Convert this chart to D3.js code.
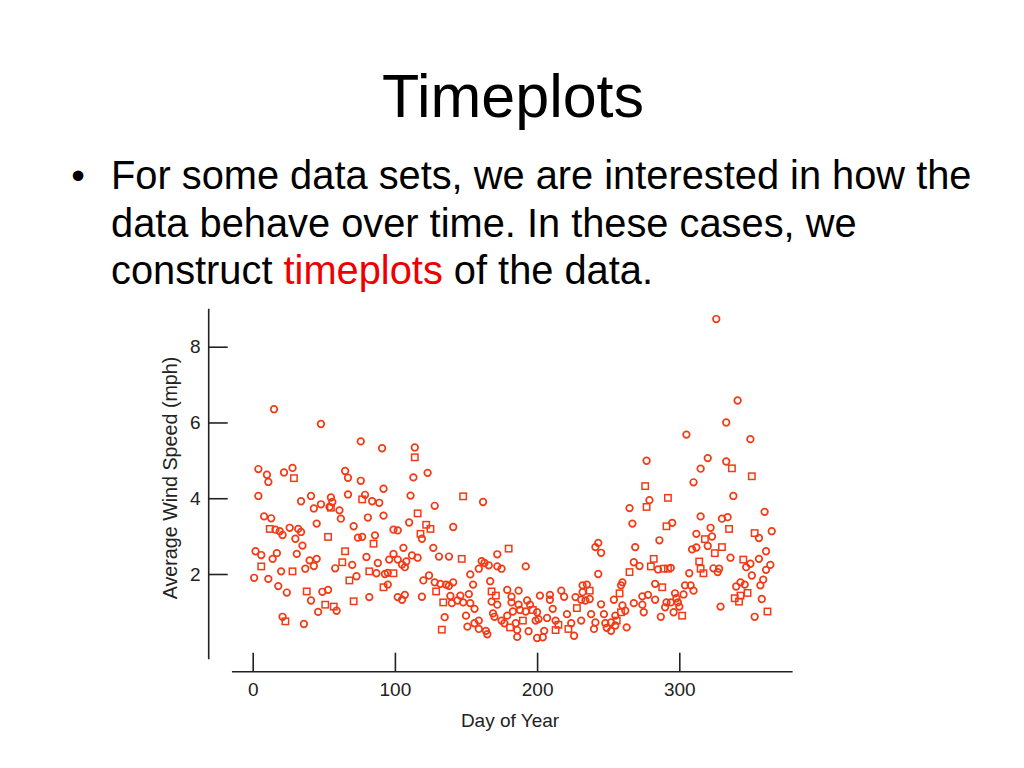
<!DOCTYPE html>
<html>
<head>
<meta charset="utf-8">
<script src="https://cdn.jsdelivr.net/npm/d3@7"></script>
<style>
  html, body { margin: 0; padding: 0; background: #fff; }
  svg { display: block; }
</style>
</head>
<body>
<svg id="chart" width="1024" height="768"></svg>
<script>
// ---- Data ----
const titleText = "Timeplots";
const bulletLines = [
  [["For some data sets, we are interested in how the", false]],
  [["data behave over time. In these cases, we", false]],
  [["construct ", false], ["timeplots", true], [" of the data.", false]]
];
const xTicks = [0, 100, 200, 300];
const yTicks = [2, 4, 6, 8];
const xLabel = "Day of Year";
const yLabel = "Average Wind Speed (mph)";

// [day, average wind speed] drawn as circles
const circlePoints = [
  [15,6.35],[48,5.96],[4,4.77],[10,4.62],[11,4.43],[28,4.80],[22,4.68],[4,4.06],[34,3.92],[41,4.06],
  [43,3.73],[48,3.84],[54,3.77],[8,3.52],[13,3.47],[16,3.17],[19,3.13],[21,3.03],[26,3.22],[32,3.19],
  [34,3.11],[45,3.33],[30,2.93],[35,2.75],[2,2.60],[6,2.50],[17,2.55],[14,2.40],[31,2.53],[40,2.36],
  [45,2.40],[43,2.21],[37,2.14],[1,1.90],[11,1.87],[20,2.07],[18,1.68],[24,1.51],[49,1.53],[53,1.58],
  [41,1.30],[46,1.00],[21,0.87],[36,0.68],
  [76,5.50],[91,5.32],[114,5.34],[65,4.72],[67,4.54],[76,4.46],[92,4.25],[113,4.55],[55,4.02],[56,3.90],
  [67,4.10],[79,4.09],[84,3.92],[89,3.88],[111,4.07],[61,3.68],[62,3.46],[81,3.49],[92,3.54],[110,3.36],
  [71,3.26],[74,2.96],[77,2.98],[86,3.02],[99,3.17],[102,3.15],[106,2.69],[112,2.49],[80,2.45],[99,2.53],
  [58,2.15],[70,2.24],[88,2.29],[96,2.38],[102,2.38],[105,2.25],[108,2.33],[107,2.18],[73,1.94],[87,2.02],
  [93,2.00],[95,2.03],[95,1.72],[59,1.03],[82,1.39],[102,1.39],[105,1.32],[107,1.45],
  [123,4.67],[162,3.90],[128,3.80],[141,3.24],[119,2.93],[127,2.69],[116,2.43],[131,2.46],[138,2.46],[161,2.34],
  [163,2.29],[166,2.23],[172,2.20],[172,2.52],[159,2.14],[153,1.99],[124,1.96],[120,1.83],[128,1.78],[132,1.74],
  [136,1.72],[138,1.69],[141,1.78],[155,1.72],[167,1.81],[119,1.40],[139,1.42],[146,1.43],[152,1.47],[140,1.23],
  [144,1.30],[148,1.25],[153,1.23],[156,1.08],[168,1.27],[172,1.19],[135,0.86],[150,0.90],[169,0.96],[170,0.87],
  [151,0.61],[156,0.70],[159,0.77],[159,0.55],[164,0.50],[165,0.41],
  [175,2.14],[192,2.20],[232,1.70],[179,1.58],[187,1.56],[182,1.40],[182,1.25],[202,1.43],[209,1.45],[209,1.32],
  [217,1.56],[219,1.40],[227,1.39],[231,1.32],[187,1.19],[193,1.30],[195,1.19],[183,1.01],[188,1.05],[192,1.01],
  [200,0.99],[211,1.08],[221,0.94],[179,0.90],[175,0.77],[177,0.70],[185,0.70],[199,0.77],[201,0.81],[207,0.84],
  [213,0.77],[224,0.70],[231,0.77],[186,0.52],[194,0.49],[205,0.50],[186,0.34],[200,0.31],[204,0.33],[226,0.37],
  [277,4.99],[279,3.95],[265,3.74],[267,3.33],[286,2.89],[243,2.82],[241,2.71],[245,2.56],[269,2.71],[268,2.31],
  [272,2.21],[285,2.12],[243,2.00],[260,1.78],[259,1.70],[283,1.74],[235,1.72],[232,1.52],[234,1.30],[237,1.34],
  [254,1.32],[274,1.41],[278,1.45],[283,1.32],[291,1.25],[245,1.20],[268,1.23],[274,1.19],[260,1.17],[262,1.03],
  [275,0.99],[238,0.94],[247,0.94],[255,0.90],[287,0.87],[241,0.72],[248,0.70],[252,0.72],[240,0.55],[249,0.58],
  [252,0.50],[255,0.64],[263,0.59],
  [326,8.73],[341,6.58],[333,6.00],[305,5.68],[350,5.56],[320,5.06],[315,4.78],[333,4.97],[310,4.42],[338,4.06],
  [360,3.64],[315,3.52],[330,3.46],[334,3.50],[295,3.35],[322,3.22],[356,2.95],[365,3.13],[312,3.06],[323,2.99],
  [320,2.74],[309,2.65],[312,2.70],[361,2.60],[336,2.43],[356,2.40],[350,2.27],[347,2.18],[364,2.24],[361,2.11],
  [294,2.16],[324,2.15],[328,2.14],[327,2.05],[307,2.02],[351,1.96],[359,1.85],[357,1.70],[343,1.78],[346,1.72],
  [340,1.67],[358,1.34],[304,1.70],[308,1.70],[310,1.56],[303,1.46],[297,1.49],[298,1.36],[294,1.25],[299,1.25],
  [300,1.14],[296,0.99],[329,1.14],[353,0.87],[290,1.12]
];

// [day, average wind speed] drawn as squares
const squarePoints = [
  [29,4.53],[12,3.19],[53,2.98],[6,2.20],[28,2.07],[38,1.54],[51,1.19],[23,0.75],
  [114,5.08],[55,3.75],[77,3.97],[85,2.80],[65,2.60],[63,2.31],[68,1.83],[82,2.07],[99,2.02],[92,1.65],[57,1.14],[71,1.28],
  [148,4.05],[116,3.60],[122,3.30],[125,3.19],[118,3.06],[147,2.40],[129,1.54],[168,1.54],[171,1.43],[134,1.25],[133,0.53],
  [180,2.67],[228,1.10],[197,1.05],[190,0.77],[215,0.66],[181,0.59],[213,0.52],[222,0.55],
  [276,4.32],[277,3.77],[292,4.01],[291,3.26],[282,2.40],[280,2.20],[289,2.14],[292,2.14],[265,2.05],[288,1.65],
  [237,1.56],[258,1.49],[259,0.99],[256,0.77],
  [337,4.79],[351,4.58],[335,3.19],[353,3.08],[318,2.92],[330,2.71],[325,2.55],[314,2.33],[345,2.38],[315,2.14],
  [317,2.02],[348,1.50],[343,1.43],[339,1.36],[342,1.27],[302,0.90],[362,1.01]
];

// axis line extents (data units)
const xLineExtent = [-14.6, 379.7];
const yLineExtent = [-0.25, 9.0];

// ---- Drawing ----
const svg = d3.select("#chart");
const FONT = "'Liberation Sans', Arial, Helvetica, sans-serif";
const markColor = "#f33a14";

svg.append("rect").attr("width", 1024).attr("height", 768).attr("fill", "#fff");

// Title
svg.append("text")
  .attr("x", 513).attr("y", 117)
  .attr("text-anchor", "middle")
  .attr("font-family", FONT).attr("font-size", 61)
  .attr("fill", "#000")
  .text(titleText);

// Bullet
svg.append("text")
  .attr("x", 78).attr("y", 189)
  .attr("text-anchor", "middle")
  .attr("font-family", FONT).attr("font-size", 39)
  .attr("fill", "#000")
  .text("\u2022");

const lineYs = [189, 237, 284];
bulletLines.forEach((runs, i) => {
  const t = svg.append("text")
    .attr("x", 111).attr("y", lineYs[i])
    .attr("font-family", FONT).attr("font-size", 39.8)
    .attr("fill", "#000")
    .attr("xml:space", "preserve")
    .style("white-space", "pre");
  runs.forEach(([s, red]) => {
    t.append("tspan").attr("fill", red ? "#ee0000" : "#000").text(s);
  });
});

// Scales
const x = d3.scaleLinear().domain([0, 300]).range([252.7, 679.3]);
const y = d3.scaleLinear().domain([2, 8]).range([574, 346.7]);

// Axis lines
svg.append("line")
  .attr("x1", x(xLineExtent[0])).attr("x2", x(xLineExtent[1]))
  .attr("y1", 671.7).attr("y2", 671.7)
  .attr("stroke", "#222").attr("stroke-width", 1.6);
svg.append("line")
  .attr("x1", 208.7).attr("x2", 208.7)
  .attr("y1", y(yLineExtent[0])).attr("y2", y(yLineExtent[1]))
  .attr("stroke", "#222").attr("stroke-width", 1.6);

// X axis ticks
const xAxis = d3.axisBottom(x).tickValues(xTicks).tickSize(-19).tickPadding(11).tickFormat(d3.format("d"));
const gx = svg.append("g").attr("transform", "translate(0,671.7)").call(xAxis);
gx.select(".domain").remove();
gx.selectAll(".tick line").attr("stroke", "#222").attr("stroke-width", 1.6);
gx.selectAll(".tick text").attr("font-family", FONT).attr("font-size", 19).attr("fill", "#222");

// Y axis ticks
const yAxis = d3.axisLeft(y).tickValues(yTicks).tickSize(-19).tickPadding(8).tickFormat(d3.format("d"));
const gy = svg.append("g").attr("transform", "translate(208.7,0)").call(yAxis);
gy.select(".domain").remove();
gy.selectAll(".tick line").attr("stroke", "#222").attr("stroke-width", 1.6);
gy.selectAll(".tick text").attr("font-family", FONT).attr("font-size", 19).attr("fill", "#222");

// Axis titles
svg.append("text")
  .attr("x", 510).attr("y", 727)
  .attr("text-anchor", "middle")
  .attr("font-family", FONT).attr("font-size", 19).attr("fill", "#222")
  .text(xLabel);
svg.append("text")
  .attr("transform", "translate(177,478) rotate(-90)")
  .attr("text-anchor", "middle")
  .attr("font-family", FONT).attr("font-size", 19.7).attr("fill", "#222")
  .text(yLabel);

// Marks
const g = svg.append("g");
g.selectAll("circle.pt").data(circlePoints).join("circle")
  .attr("class", "pt")
  .attr("cx", d => x(d[0])).attr("cy", d => y(d[1]))
  .attr("r", 3.3)
  .attr("fill", "none").attr("stroke", markColor).attr("stroke-width", 1.7);
const sq = 6.4;
g.selectAll("rect.pt").data(squarePoints).join("rect")
  .attr("class", "pt")
  .attr("x", d => x(d[0]) - sq / 2).attr("y", d => y(d[1]) - sq / 2)
  .attr("width", sq).attr("height", sq)
  .attr("fill", "none").attr("stroke", markColor).attr("stroke-width", 1.5);
</script>
</body>
</html>
